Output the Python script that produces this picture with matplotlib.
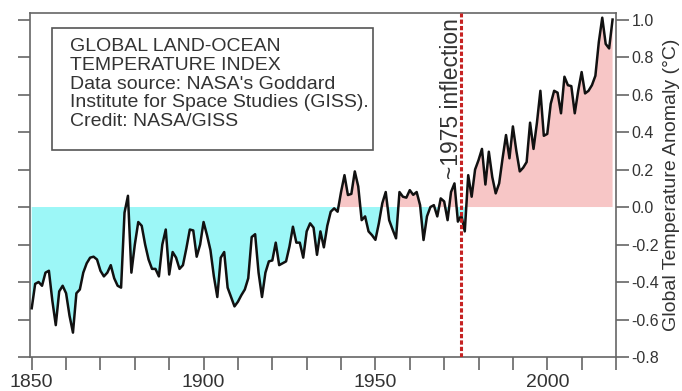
import matplotlib
matplotlib.use("Agg")
import matplotlib.pyplot as plt
from matplotlib.ticker import MultipleLocator, FormatStrFormatter
from matplotlib.patches import Rectangle
import numpy as np

plt.rcParams['font.family'] = ['Liberation Sans', 'DejaVu Sans']
plt.rcParams['axes.unicode_minus'] = False

years = list(range(1850, 2020))
anomaly = [
    -0.54, -0.41, -0.40, -0.42, -0.35, -0.34, -0.50, -0.63, -0.45, -0.42,   # 1850s
    -0.46, -0.58, -0.67, -0.46, -0.44, -0.35, -0.30, -0.27, -0.265, -0.28,  # 1860s
    -0.34, -0.37, -0.35, -0.31, -0.38, -0.42, -0.43, -0.03, 0.06, -0.35,    # 1870s
    -0.20, -0.08, -0.10, -0.20, -0.28, -0.33, -0.33, -0.37, -0.20, -0.12,   # 1880s
    -0.36, -0.24, -0.27, -0.33, -0.31, -0.22, -0.12, -0.125, -0.265, -0.20, # 1890s
    -0.08, -0.15, -0.23, -0.37, -0.48, -0.27, -0.24, -0.43, -0.48, -0.53,   # 1900s
    -0.505, -0.47, -0.44, -0.38, -0.16, -0.145, -0.35, -0.48, -0.35, -0.29, # 1910s
    -0.285, -0.19, -0.31, -0.30, -0.29, -0.21, -0.105, -0.19, -0.19, -0.27, # 1920s
    -0.13, -0.087, -0.11, -0.255, -0.13, -0.215, -0.10, -0.025, -0.007, -0.025,  # 1930s
    0.08, 0.17, 0.064, 0.07, 0.19, 0.11, -0.07, -0.05, -0.13, -0.15,        # 1940s
    -0.175, -0.087, 0.02, 0.08, -0.07, -0.12, -0.167, 0.08, 0.055, 0.05,    # 1950s
    0.09, 0.065, 0.08, 0.01, -0.176, -0.05, 0.0, 0.01, -0.05, 0.046,        # 1960s
    0.03, -0.07, 0.08, 0.126, -0.078, -0.045, -0.13, 0.17, 0.055, 0.20,     # 1970s
    0.25, 0.31, 0.12, 0.295, 0.16, 0.073, 0.126, 0.26, 0.384, 0.26,         # 1980s
    0.43, 0.30, 0.19, 0.21, 0.24, 0.45, 0.31, 0.45, 0.62, 0.38,             # 1990s
    0.39, 0.55, 0.62, 0.61, 0.50, 0.695, 0.65, 0.645, 0.50, 0.62,           # 2000s
    0.72, 0.606, 0.62, 0.65, 0.70, 0.88, 1.01, 0.87, 0.846, 1.00,           # 2010s
]
inflection_year = 1975
box_lines = [
    "GLOBAL LAND-OCEAN",
    "TEMPERATURE INDEX",
    "Data source: NASA's Goddard",
    "Institute for Space Studies (GISS).",
    "Credit: NASA/GISS",
]
y_label = "Global Temperature Anomaly (°C)"
inflection_label = "~1975 inflection"

x = np.array(years, dtype=float)
y = np.array(anomaly)

W, H = 682, 391
fig = plt.figure(figsize=(W / 100, H / 100), dpi=100)
L, R, T, B = 30, 616, 13, 357
ax = fig.add_axes([L / W, 1 - B / H, (R - L) / W, (B - T) / H])

spine_col = '#666666'
text_col = '#333333'

ax.fill_between(x, y, 0, where=y < 0, interpolate=True, color='#9cf7f7', lw=0, zorder=1)
ax.fill_between(x, y, 0, where=y > 0, interpolate=True, color='#f7c6c6', lw=0, zorder=1)
ax.plot(x, y, color='#111111', lw=1.8, zorder=3, solid_joinstyle='round')
ax.axvline(inflection_year, color='#c62222', lw=2.2, ls=(0, (1.4, 0.7)), zorder=4)

ax.set_xlim(1849.5, 2020)
ax.set_ylim(-0.8, 1.035)

for s in ax.spines.values():
    s.set_color(spine_col)
    s.set_linewidth(1.2)

ax.xaxis.set_major_locator(MultipleLocator(50))
ax.xaxis.set_minor_locator(MultipleLocator(10))
ax.yaxis.set_major_locator(MultipleLocator(0.2))
ax.yaxis.set_major_formatter(FormatStrFormatter('%.1f'))
ax.tick_params(axis='x', which='both', direction='out', length=9, width=1.2,
               color=spine_col, labelsize=14, labelcolor=text_col, pad=3)
ax.tick_params(axis='y', which='both', direction='out', length=9, width=1.2,
               color=spine_col, left=True, right=True, labelleft=False,
               labelright=True, labelsize=11.5, labelcolor=text_col, pad=2)
ax.yaxis.set_label_position('right')
ax.set_ylabel(y_label, fontsize=14, color=text_col, labelpad=3)

# annotation box
ax_w, ax_h = R - L, B - T
def ax_frac(px, py):
    return (px - L) / ax_w, 1 - (py - T) / ax_h
bx0, by0 = ax_frac(52, 150)
bx1, by1 = ax_frac(373, 28)
ax.add_patch(Rectangle((bx0, by0), bx1 - bx0, by1 - by0, transform=ax.transAxes,
                       fill=True, facecolor='white', edgecolor='#555555', lw=1.2, zorder=5))
tx, ty = ax_frac(70, 38)
ax.text(tx, ty, "\n".join(box_lines), transform=ax.transAxes, ha='left', va='top',
        fontsize=14, color=text_col, linespacing=1.14, zorder=6)

ax.text(1972.0, 1.01, inflection_label, rotation=90, ha='center', va='top',
        fontsize=16.5, color=text_col, zorder=6)

fig.savefig('out.png', dpi=100)
